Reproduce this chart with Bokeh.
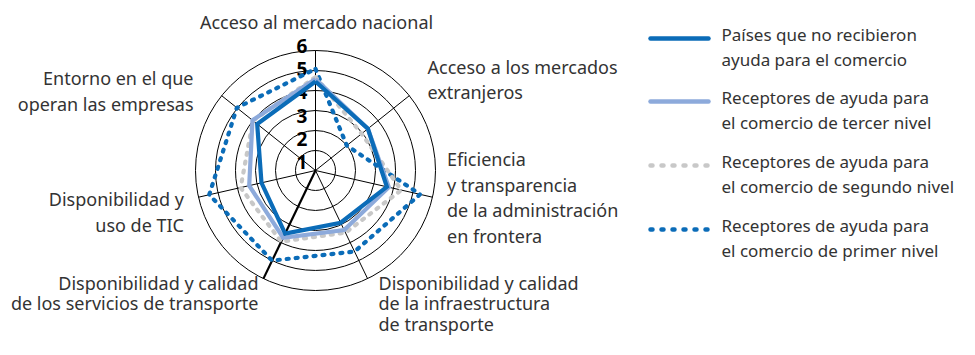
import numpy as np
from bokeh.plotting import figure
from bokeh.models import Range1d
from bokeh.core.properties import value
from bokeh.embed import file_html
from bokeh.resources import INLINE

# ---------------- data ----------------
categories = [
    ["Acceso al mercado nacional"],
    ["Acceso a los mercados", "extranjeros"],
    ["Eficiencia", "y transparencia", "de la administración", "en frontera"],
    ["Disponibilidad y calidad", "de la infraestructura", "de transporte"],
    ["Disponibilidad y calidad", "de los servicios de transporte"],
    ["Disponibilidad y", "uso de TIC"],
    ["Entorno en el que", "operan las empresas"],
]
series_names = [
    ["Países que no recibieron", "ayuda para el comercio"],
    ["Receptores de ayuda para", "el comercio de tercer nivel"],
    ["Receptores de ayuda para", "el comercio de segundo nivel"],
    ["Receptores de ayuda para", "el comercio de primer nivel"],
]
no_aid = [4.45, 3.35, 3.66, 2.9, 3.5, 2.77, 3.73]
tier3 = [4.58, 3.35, 3.76, 3.3, 3.73, 3.4, 4.03]
tier2 = [4.67, 2.95, 4.4, 3.45, 3.95, 3.84, 4.0]
tier1 = [5.08, 2.0, 5.36, 4.5, 5.0, 5.45, 5.03]
ring_ticks = [1, 2, 3, 4, 5, 6]

# ---------------- layout helpers ----------------
W, H = 959, 339
CX, CY, S = 315, 170, 20.0   # centre (px) and px per unit


def px(X):
    return (X - CX) / S


def py(Y):
    return (CY - Y) / S


p = figure(width=W, height=H, output_backend="svg", toolbar_location=None,
           x_range=Range1d(px(0), px(W)), y_range=Range1d(py(H), py(0)),
           min_border=0, outline_line_color=None)
p.axis.visible = False
p.grid.visible = False
p.background_fill_color = "white"
p.border_fill_color = "white"

n = len(categories)
ang = np.pi / 2 - np.arange(n) * 2 * np.pi / n
rmax = max(ring_ticks)

# rings
p.circle(x=[0] * len(ring_ticks), y=[0] * len(ring_ticks), radius=ring_ticks,
         fill_color=None, line_color="black", line_width=1)
# spokes
widths = [1] * n
widths[4] = 2.2
p.segment(x0=[0] * n, y0=[0] * n, x1=list(rmax * np.cos(ang)), y1=list(rmax * np.sin(ang)),
          line_color="black", line_width=widths)

FONT = "Noto Sans"
TXT = "#333333"
FS = "18px"

# ring labels
lab_x = [px(301.5)] * len(ring_ticks)
lab_y = [py(CY - (v * 23.33 - 15)) for v in ring_ticks]
p.text(x=lab_x, y=lab_y, text=[str(v) for v in ring_ticks], text_font=value(FONT),
       text_font_style="bold", text_font_size="19px", text_color="black",
       text_align="center", text_baseline="middle")

# series polygons
styles = [
    (tier1, "#0b6cb8", "2 7", "round"),
    (tier2, "#c8c8c8", "2 7", "round"),
    (tier3, "#8daadb", None, "miter"),
    (no_aid, "#0b6cb8", None, "miter"),
]
for vals, col, dash, join in styles:
    v = np.array(vals + vals[:1])
    a = np.concatenate([ang, ang[:1]])
    kw = dict(line_color=col, line_width=4.2, line_join=join)
    if dash:
        kw.update(line_dash=dash, line_cap="round")
    p.line(x=list(v * np.cos(a)), y=list(v * np.sin(a)), **kw)

# category labels (anchor px, align, line step)
anchors = [
    (316, 21.5, "center", 25.5),
    (427, 66, "left", 25.5),
    (446.5, 158.5, "left", 25.5),
    (378, 282, "left", 20.5),
    (258, 282, "right", 20.5),
    (183.5, 198.5, "right", 25.5),
    (193, 77.5, "right", 25.5),
]
tx, ty, tt, ta = [], [], [], []
for lines, (X, Y, al, ls) in zip(categories, anchors):
    for k, s in enumerate(lines):
        tx.append(px(X)); ty.append(py(Y + k * ls)); tt.append(s); ta.append(al)
p.text(x=tx, y=ty, text=tt, text_align=ta, text_baseline="middle",
       text_font=value(FONT), text_font_size=FS, text_color=TXT)

# legend (manual)
leg_styles = [
    ("#0b6cb8", None), ("#8daadb", None), ("#c8c8c8", "2 9"), ("#0b6cb8", "2 9"),
]
leg_y = [38, 101, 165, 229]
for (col, dash), Y in zip(leg_styles, leg_y):
    kw = dict(line_color=col, line_width=4.5, line_cap="round")
    if dash:
        kw.update(line_dash=dash)
    p.line(x=[px(650), px(708)], y=[py(Y), py(Y)], **kw)
lx, ly, lt = [], [], []
for lines, Y in zip(series_names, leg_y):
    for k, s in enumerate(lines):
        lx.append(px(721)); ly.append(py(Y - 4 + k * 25)); lt.append(s)
p.text(x=lx, y=ly, text=lt, text_align="left", text_baseline="middle",
       text_font=value(FONT), text_font_size="17px", text_color=TXT)

open("out.html", "w").write(file_html(p, INLINE))
